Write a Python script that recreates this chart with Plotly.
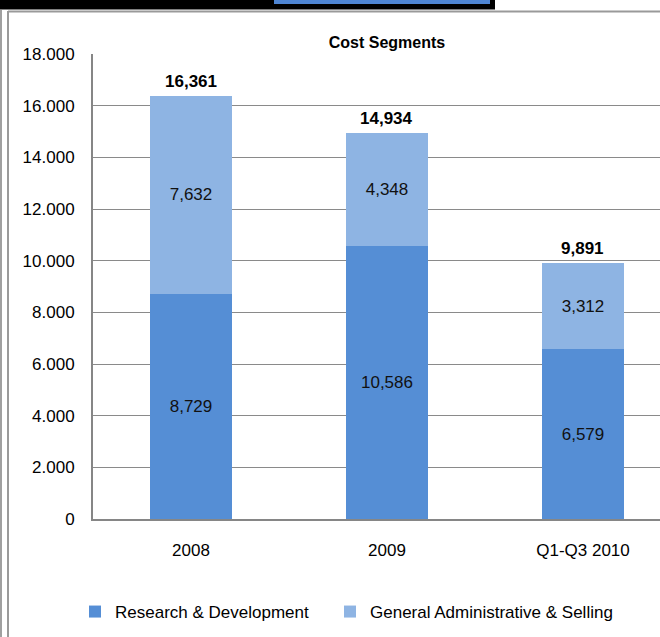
import plotly.graph_objects as go

categories = ["2008", "2009", "Q1-Q3 2010"]
rnd = [8729, 10586, 6579]
gas = [7632, 4348, 3312]
totals = [16361, 14934, 9891]
ytick_vals = [0, 2000, 4000, 6000, 8000, 10000, 12000, 14000, 16000, 18000]
ytick_text = ["0", "2.000", "4.000", "6.000", "8.000", "10.000", "12.000", "14.000", "16.000", "18.000"]

W, H = 660, 637
L, R, T, B = 93, 0, 54, 118
PW, PH = W - L - R, H - T - B


def px(x):
    return (x - L) / PW


def py(y):
    return (H - B - y) / PH


FONT = "Liberation Sans, Arial, sans-serif"
DARK = "#558ED5"
LIGHT = "#8EB4E3"

fig = go.Figure()
fig.add_trace(go.Bar(
    name="Research & Development", x=categories, y=rnd,
    marker=dict(color=DARK, line=dict(width=0)),
    text=[f"{v:,}" for v in rnd], textposition="inside", insidetextanchor="middle",
    textangle=0, textfont=dict(family=FONT, size=17, color="#111111"),
    legendwidth=210,
))
fig.add_trace(go.Bar(
    name="General Administrative & Selling", x=categories, y=gas,
    marker=dict(color=LIGHT, line=dict(width=0)),
    text=[f"{v:,}" for v in gas], textposition="inside", insidetextanchor="middle",
    textangle=0, textfont=dict(family=FONT, size=17, color="#111111"),
))

for i, t in enumerate(totals):
    fig.add_annotation(x=i, y=t, xref="x", yref="y", text=f"<b>{t:,}</b>", showarrow=False,
                       yanchor="bottom", yshift=3,
                       font=dict(family=FONT, size=17, color="#000000"))

shapes = [
    # black bar at top
    dict(type="rect", xref="paper", yref="paper", x0=px(0), x1=px(495), y0=py(9.5), y1=py(0),
         fillcolor="#000000", line=dict(width=0), layer="above"),
    dict(type="rect", xref="paper", yref="paper", x0=px(274), x1=px(490), y0=py(4), y1=py(0),
         fillcolor="#4F86D4", line=dict(width=0), layer="above"),
    # frame lines
    dict(type="line", xref="paper", yref="paper", x0=px(8), x1=px(W + 5), y0=py(11.5), y1=py(11.5),
         line=dict(color="#9a9a9a", width=2), layer="above"),
    dict(type="line", xref="paper", yref="paper", x0=px(8), x1=px(8), y0=py(11), y1=py(H + 5),
         line=dict(color="#9a9a9a", width=2), layer="above"),
    dict(type="line", xref="paper", yref="paper", x0=px(1), x1=px(1), y0=py(10), y1=py(H + 5),
         line=dict(color="#a0a0a0", width=2), layer="above"),
]

fig.update_layout(
    width=W, height=H,
    margin=dict(l=L, r=R, t=T, b=B, pad=0),
    paper_bgcolor="white", plot_bgcolor="white",
    barmode="stack", bargap=0.58,
    font=dict(family=FONT, size=17, color="#000000"),
    title=dict(text="<b>Cost Segments</b>", x=px(387), xref="paper", xanchor="center",
               y=1 - 42 / H, yref="container", yanchor="middle",
               font=dict(family=FONT, size=16, color="#000000")),
    showlegend=True,
    legend=dict(orientation="h", x=px(75), xanchor="left", y=py(612), yanchor="middle",
                traceorder="normal", font=dict(family=FONT, size=17, color="#000000"),
                bgcolor="rgba(0,0,0,0)"),
    shapes=shapes,
    uniformtext=dict(mode=False),
)
fig.update_xaxes(type="category", range=[-0.5, 2.393], showline=True, linecolor="#868686",
                 linewidth=2, showgrid=False, ticks="", ticklabelstandoff=15,
                 tickfont=dict(family=FONT, size=17, color="#000000"))
fig.update_yaxes(range=[0, 18000], tickvals=ytick_vals, ticktext=ytick_text,
                 showline=True, linecolor="#868686", linewidth=2, showgrid=True,
                 gridcolor="#8a8a8a", gridwidth=1, zeroline=False, ticks="",
                 ticklabelstandoff=13, tickfont=dict(family=FONT, size=17, color="#000000"))

fig.write_html("out.html", config={"displayModeBar": False},
               post_script="document.body.style.margin='0';document.body.style.overflow='hidden';")
